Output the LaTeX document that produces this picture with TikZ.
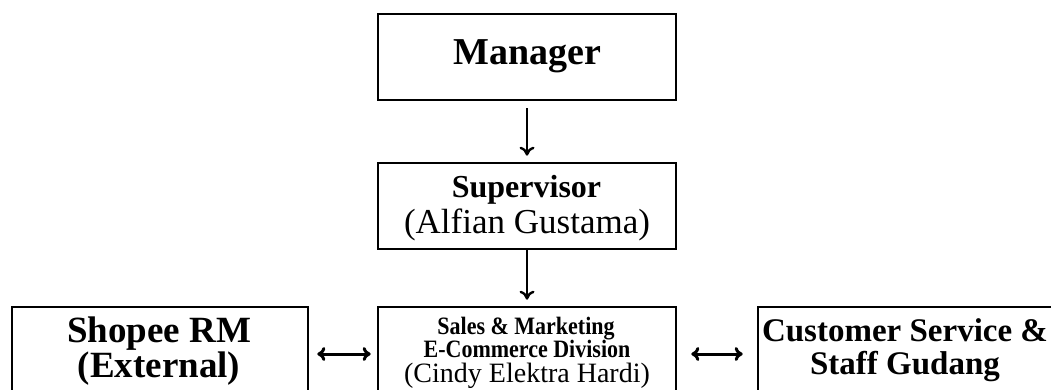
\documentclass[tikz,border=0pt]{standalone}
\usepackage{fontspec}
\usepackage{graphicx}
\setmainfont{Liberation Serif}
\usetikzlibrary{arrows.meta}
\tikzset{
  box/.style={draw=black, line width=2.6pt, rectangle, inner sep=0pt},
  txt/.style={anchor=base, inner sep=0pt},
  down/.style={line width=2.4pt, -{To[length=9pt,width=15pt]}},
  both/.style={line width=3pt, {To[length=8pt,width=14pt]}-{To[length=8pt,width=14pt]}}
}
\newcommand{\cond}[1]{\scalebox{0.88}[1]{#1}}
\begin{document}
\begin{tikzpicture}[x=1pt,y=-1pt]
\useasboundingbox (0,0) rectangle (1051,390);
% boxes
\node[box, minimum width=298pt, minimum height=86pt] (mgr) at (527,57) {};
\node[box, minimum width=298pt, minimum height=86pt] (sup) at (527,206) {};
\node[box, minimum width=298pt, minimum height=94pt] (sales) at (527,354) {};
\node[box, minimum width=296pt, minimum height=94pt] (shopee) at (160,354) {};
\node[box, minimum width=296pt, minimum height=94pt] (cs) at (906,354) {};
% texts
\node[txt, font=\fontsize{38}{38}\selectfont\bfseries] (mgrT) at (527.5,65) {Manager};
\node[txt, font=\fontsize{32}{32}\selectfont\bfseries] (supT1) at (526.5,197) {Supervisor};
\node[txt, font=\fontsize{35}{35}\selectfont] (supT2) at (527,233) {(Alfian Gustama)};
\node[txt, font=\fontsize{25}{25}\selectfont\bfseries] (salesT1) at (526,334) {\cond{Sales \& Marketing}};
\node[txt, font=\fontsize{25}{25}\selectfont\bfseries] (salesT2) at (527,357) {\cond{E-Commerce Division}};
\node[txt, font=\fontsize{28}{28}\selectfont] (salesT3) at (527,382) {(Cindy Elektra Hardi)};
\node[txt, font=\fontsize{37}{37}\selectfont\bfseries] (shopeeT1) at (159,342) {Shopee RM};
\node[txt, font=\fontsize{37}{37}\selectfont\bfseries] (shopeeT2) at (159,377) {(External)};
\node[txt, font=\fontsize{33}{33}\selectfont\bfseries] (csT1) at (905,341) {Customer Service \&};
\node[txt, font=\fontsize{33}{33}\selectfont\bfseries] (csT2) at (905,374) {Staff Gudang};
% connectors
\draw[down, shorten <=7pt, shorten >=6pt] (mgr.south) -- (sup.north);
\draw[down, shorten <=0pt, shorten >=6pt] (sup.south) -- (sales.north);
\draw[both, shorten <=8pt, shorten >=6pt] (shopee.east) -- (sales.west);
\draw[both, shorten <=14pt, shorten >=14pt] (sales.east) -- (cs.west);
\end{tikzpicture}
\end{document}
